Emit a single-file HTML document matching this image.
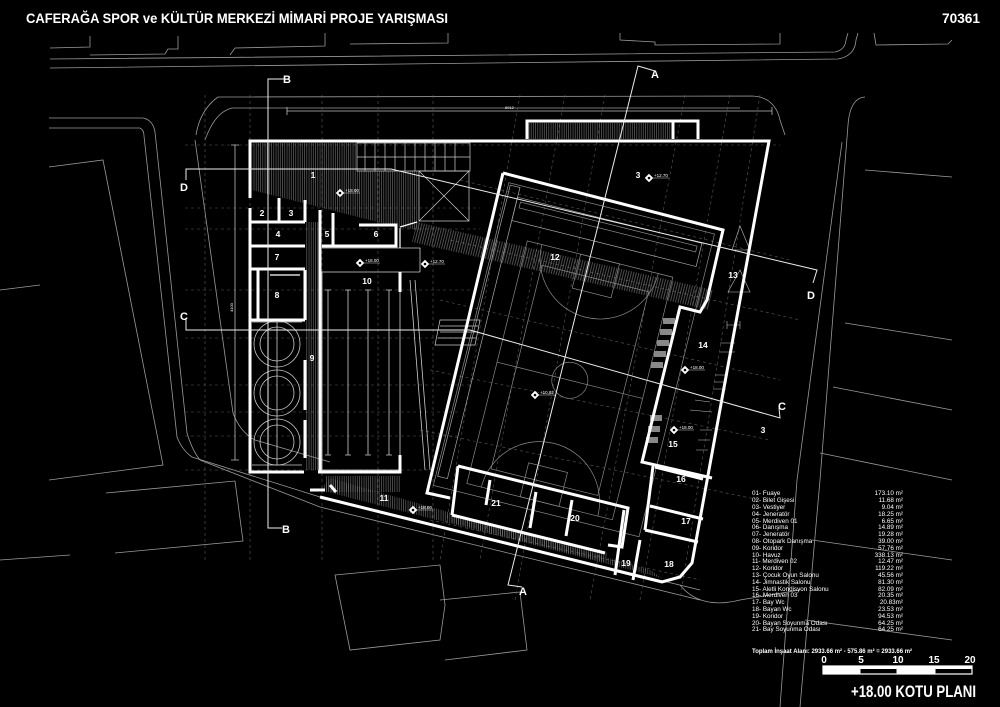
<!DOCTYPE html>
<html><head><meta charset="utf-8"><style>
html,body{margin:0;padding:0;background:#000;}
svg{display:block;}
text{font-family:"Liberation Sans","DejaVu Sans",sans-serif;fill:#fff;}
</style></head><body>
<svg width="1000" height="707" viewBox="0 0 1000 707" xmlns="http://www.w3.org/2000/svg">
<defs>
<pattern id="h" width="2.2" height="4" patternUnits="userSpaceOnUse"><line x1="1" y1="0" x2="1" y2="4" stroke="#8a8a8a" stroke-width="0.5"/></pattern>
<pattern id="hs" width="2.5" height="4" patternUnits="userSpaceOnUse" patternTransform="rotate(14)"><line x1="1" y1="0" x2="1" y2="4" stroke="#9a9a9a" stroke-width="0.5"/></pattern>
</defs>
<rect width="1000" height="707" fill="#000"/>

<!-- site background lines -->
<g fill="none" stroke="#9a9a9a" stroke-width="0.8">
<path d="M50,59 L835,52 Q845,50 846,40 L848,33"/>
<path d="M50,68 L838,59 Q855,56 856,40 L858,33"/>
<path d="M50,48 L90,47 L90,36 M90,55 L165,54 L168,49 L178,49 L178,36 M230,55 L235,48 L325,46 L325,33 M350,44 L448,43 L448,33 M620,33 L620,40 L655,42 L655,45 L780,44 L780,33"/>
<path d="M874,33 L876,45 L948,44 L952,40"/>
<path d="M49,118 L143,118 Q153,120 155,132 L187,433 Q192,450 200,460 L320,507 L700,600"/>
<path d="M49,128 L140,128 Q144,130 144,136 L177,437 Q182,450 192,457 L320,497 L700,590"/>
<path d="M49,167 L103,160 L163,465 L49,480"/>
<path d="M106,493 L235,481 L243,541 L115,553"/>
<path d="M196,135 Q200,110 218,97 L752,96 Q775,97 780,120 L785,135"/>
<path d="M205,140 Q215,112 232,108 L740,108"/>
<path d="M195,140 L233,413 Q240,432 255,440 L330,462"/>
<path d="M865,97 Q850,98 848,125 L820,480 L800,707"/>
<path d="M842,142 L797,480 L780,707"/>
<path d="M865,170 L952,177 M845,323 L952,340 M833,387 L952,410 M820,453 L952,480 M812,540 L952,560 M805,620 L952,640"/>
<path d="M335,575 L440,565 L445,605 L440,640 L350,650 Z M440,600 L520,592 L527,650 L445,660"/>
<path d="M680,585 Q700,610 740,600 L800,590"/>
<path d="M0,290 L40,285 M0,560 L70,555"/>
</g>

<!-- dashed grid -->
<g fill="none" stroke="#5a5a5a" stroke-width="0.6" stroke-dasharray="3,3">
<path d="M205,95 L205,560 M250,95 L250,560 M322,95 L322,560 M378,95 L378,560 M433,95 L433,560"/>
<path d="M185,145 L780,145 M185,208 L480,208 M185,229 L480,229 M185,290 L470,290 M185,338 L470,338 M185,385 L470,385 M185,412 L460,412 M185,436 L460,436 M185,470 L430,470"/>
<path d="M520,95 L440,560 M565,95 L480,560 M605,95 L515,600 M685,95 L590,600 M730,95 L640,600 M760,95 L680,600"/>
<path d="M460,180 L790,260 M450,240 L800,320 M440,300 L780,380 M430,370 L770,440 M420,430 L760,500 M430,520 L700,580"/>
</g>

<!-- dimension lines -->
<g stroke="#bbb" stroke-width="0.8" fill="none">
<path d="M287,111 L772,111 M287,107 L287,115 M772,107 L772,115"/>
<path d="M235,145 L235,460 M231,145 L239,145 M231,460 L239,460"/>
</g>
<text x="505" y="109" font-size="4" fill="#ccc">6912</text>
<text x="233" y="312" font-size="4" transform="rotate(-90 233 312)">4100</text>

<!-- hatched fills -->
<g stroke="none">
<polygon points="252,143 357,143 357,171 419,171 419,230 397,227 252,190" fill="url(#h)"/>
<rect x="306" y="222" width="14" height="248" fill="url(#h)"/>
<rect x="527" y="123" width="144" height="16" fill="url(#h)"/>
<polygon points="417,222 713,290 709,310 412,242" fill="url(#hs)"/>
<rect x="326" y="476" width="74" height="16" fill="url(#h)"/>
<polygon points="320,490 662,578 650,570 330,478" fill="url(#h)"/>
<polygon points="452,515 608,553 604,562 450,522" fill="url(#h)"/>
</g>

<!-- stairs top -->
<g stroke="#ccc" stroke-width="0.7" fill="none">
<path d="M357,143 L470,143 L470,171 L357,171 Z"/>
<path d="M365,143 L365,171 M375,143 L375,171 M385,143 L385,171 M395,143 L395,171 M405,143 L405,171 M415,143 L415,171 M425,143 L425,171 M435,143 L435,171 M445,143 L445,171 M455,143 L455,171 M357,157 L470,157"/>
<path d="M419,171 L469,171 L469,221 L419,221 Z M419,171 L469,221 M469,171 L419,221"/>
<path d="M440,320 L480,320 L475,345 L435,345 Z M440,326 L478,326 M440,332 L477,332 M438,338 L476,338"/>
</g>

<!-- gym interior (rotated) -->
<g transform="translate(503,173) rotate(14)" fill="none" stroke="#888" stroke-width="0.7">
<rect x="8" y="8" width="212" height="312"/>
<rect x="20" y="20" width="190" height="24" stroke="#aaa"/>
<rect x="24" y="24" width="182" height="6"/>
<rect x="40" y="60" width="150" height="250"/>
<rect x="60" y="80" width="110" height="210"/>
<line x1="40" y1="185" x2="190" y2="185"/>
<circle cx="115" cy="185" r="18"/>
<path d="M55,60 A60,60 0 0 0 175,60"/>
<path d="M55,310 A60,60 0 0 1 175,310"/>
<rect x="95" y="60" width="40" height="35"/>
<rect x="95" y="275" width="40" height="35"/>
<rect x="10" y="10" width="10" height="300" stroke="#aaa"/>
</g>
<!-- gym right rooms fixtures -->
<g fill="#888">
<rect x="663" y="318" width="12" height="6"/><rect x="660" y="329" width="12" height="6"/><rect x="657" y="340" width="12" height="6"/><rect x="654" y="351" width="12" height="6"/><rect x="651" y="362" width="12" height="6"/>
<rect x="650" y="415" width="12" height="6"/><rect x="648" y="426" width="12" height="6"/><rect x="646" y="437" width="12" height="6"/>
</g>
<g stroke="#bbb" stroke-width="0.6" fill="none">
<path d="M727,325 L740,325 M727,321 L727,329 M740,321 L740,329 M720,343 L735,343 M720,352 L735,352 M715,375 L728,375 M714,382 L727,382 M713,389 L726,389 M695,400 L710,402 M690,410 L712,412 M700,430 L712,430 M698,440 L710,440 M696,450 L708,450"/>
<path d="M740,226 L750,250 L732,250 Z M740,270 L750,292 L728,292 Z"/>
</g>

<!-- circles (tanks) -->
<g fill="none" stroke="#ccc" stroke-width="0.8">
<circle cx="277" cy="344" r="23"/><circle cx="277" cy="344" r="17"/>
<circle cx="277" cy="393" r="23"/><circle cx="277" cy="393" r="17"/>
<circle cx="277" cy="442" r="23"/><circle cx="277" cy="442" r="17"/>
<path d="M252,322 L302,322 M252,465 L302,465 M277,322 L277,465"/>
</g>

<!-- pool -->
<g stroke="#ccc" stroke-width="0.8" fill="none">
<rect x="322" y="272" width="78" height="198"/>
<path d="M328,290 L328,455 M348,290 L348,455 M368,290 L368,455 M389,290 L389,455"/>
<path d="M325,290 L331,290 M345,290 L351,290 M365,290 L371,290 M386,290 L392,290 M325,455 L331,455 M345,455 L351,455 M365,455 L371,455 M386,455 L392,455"/>
<path d="M322,248 L420,248 L420,272 M400,272 L420,272"/>
<path d="M410,280 L425,470 M415,280 L430,470"/>
</g>

<!-- thick walls -->
<g stroke="#fff" stroke-width="3" fill="none" stroke-linejoin="miter">
<path d="M250,198 L250,141 L769,141 L692,563 L680,577 L662,582 L320,497"/>
<path d="M250,208 L250,472 L304,472 M318,472 L400,472 L400,455"/>
<path d="M250,222 L305,222 M250,246 L305,246 M250,269 L305,269 M258,269 L258,320 M250,320 L305,320 M279,198 L279,222"/>
<path d="M305,200 L305,222 M305,270 L305,320 M305,360 L305,410 M305,420 L305,458"/>
<path d="M320,210 L320,472"/>
<path d="M322,246 L396,246 L396,225 L359,225 M333,213 L333,246"/>
<path d="M400,292 L400,272"/>
<path d="M527,139 L527,121 L698,121 L698,139 M673,121 L673,139"/>
<path d="M503,173 L723,230 L707,300 L700,312 L680,307 L642,462 L712,478"/>
<path d="M503,173 L427,493 L450,498"/>
<path d="M458,466 L628,508 L622,547 L608,545"/>
<path d="M458,466 L452,515 M452,515 L605,553"/>
<path d="M490,480 L486,505 M536,492 L530,528 M572,500 L566,536"/>
<path d="M653,466 L645,530 M655,467 L703,479 M650,506 L703,519 M645,530 L698,542 M640,540 L633,580 M624,510 L615,575"/>
<path d="M330,485 L336,492 M310,490 L325,490"/>
</g>
<g stroke="#fff" stroke-width="1.2" fill="none">
<path d="M400,227 L417,222 M400,228 L400,248"/>
<path d="M270,275 L300,275"/>
</g>

<!-- section lines -->
<g stroke="#eee" stroke-width="1" fill="none">
<path d="M285,79 L268,79 L268,528 L282,528"/>
<path d="M655,71 L638,66 L508,585 L522,587"/>
<path d="M186,180 L186,169 L391,169 L817,270 L813,283"/>
<path d="M186,318 L186,330 L470,330 L780,418 L779,408"/>
</g>
<g font-weight="bold" font-size="11">
<text x="283" y="83">B</text>
<text x="282" y="533">B</text>
<text x="651" y="78">A</text>
<text x="519" y="595">A</text>
<text x="180" y="191">D</text>
<text x="807" y="299">D</text>
<text x="180" y="320">C</text>
<text x="778" y="410">C</text>
</g>

<!-- room labels -->
<g font-weight="bold" font-size="8.5" text-anchor="middle">
<text x="313" y="178">1</text><text x="262" y="216">2</text><text x="291" y="216">3</text>
<text x="278" y="237">4</text><text x="327" y="237">5</text><text x="376" y="237">6</text>
<text x="277" y="260">7</text><text x="277" y="298">8</text><text x="312" y="361">9</text>
<text x="367" y="284">10</text><text x="384" y="501">11</text><text x="555" y="260">12</text>
<text x="733" y="278">13</text><text x="703" y="348">14</text><text x="673" y="447">15</text>
<text x="681" y="482">16</text><text x="686" y="524">17</text><text x="669" y="567">18</text>
<text x="626" y="566">19</text><text x="575" y="521">20</text><text x="496" y="506">21</text>
<text x="638" y="178">3</text><text x="763" y="433">3</text>
</g>

<!-- elevation markers -->
<g font-size="4.5" fill="#fff">
<g transform="translate(340,193)"><rect x="-3" y="-3" width="6" height="6" transform="rotate(45)" fill="#fff"/><circle r="1.3" fill="#000"/><text x="5" y="-1">+18.00</text><line x1="4" y1="0" x2="20" y2="0" stroke="#fff" stroke-width="0.4"/></g>
<g transform="translate(360,263)"><rect x="-3" y="-3" width="6" height="6" transform="rotate(45)" fill="#fff"/><circle r="1.3" fill="#000"/><text x="5" y="-1">+18.00</text><line x1="4" y1="0" x2="20" y2="0" stroke="#fff" stroke-width="0.4"/></g>
<g transform="translate(425,264)"><rect x="-3" y="-3" width="6" height="6" transform="rotate(45)" fill="#fff"/><circle r="1.3" fill="#000"/><text x="5" y="-1">+12.70</text><line x1="4" y1="0" x2="20" y2="0" stroke="#fff" stroke-width="0.4"/></g>
<g transform="translate(649,178)"><rect x="-3" y="-3" width="6" height="6" transform="rotate(45)" fill="#fff"/><circle r="1.3" fill="#000"/><text x="5" y="-1">+12.70</text><line x1="4" y1="0" x2="20" y2="0" stroke="#fff" stroke-width="0.4"/></g>
<g transform="translate(685,370)"><rect x="-3" y="-3" width="6" height="6" transform="rotate(45)" fill="#fff"/><circle r="1.3" fill="#000"/><text x="5" y="-1">+18.00</text><line x1="4" y1="0" x2="20" y2="0" stroke="#fff" stroke-width="0.4"/></g>
<g transform="translate(674,430)"><rect x="-3" y="-3" width="6" height="6" transform="rotate(45)" fill="#fff"/><circle r="1.3" fill="#000"/><text x="5" y="-1">+18.00</text><line x1="4" y1="0" x2="20" y2="0" stroke="#fff" stroke-width="0.4"/></g>
<g transform="translate(535,395)"><rect x="-3" y="-3" width="6" height="6" transform="rotate(45)" fill="#fff"/><circle r="1.3" fill="#000"/><text x="5" y="-1">+10.82</text><line x1="4" y1="0" x2="20" y2="0" stroke="#fff" stroke-width="0.4"/></g>
<g transform="translate(413,510)"><rect x="-3" y="-3" width="6" height="6" transform="rotate(45)" fill="#fff"/><circle r="1.3" fill="#000"/><text x="5" y="-1">+18.00</text><line x1="4" y1="0" x2="20" y2="0" stroke="#fff" stroke-width="0.4"/></g>
</g>

<!-- title -->
<text x="26" y="23" font-size="14" font-weight="bold" textLength="422" lengthAdjust="spacingAndGlyphs">CAFERAĞA SPOR ve KÜLTÜR MERKEZİ MİMARİ PROJE YARIŞMASI</text>
<text x="942" y="23" font-size="14" font-weight="bold" textLength="38" lengthAdjust="spacingAndGlyphs">70361</text>

<!-- legend -->
<g font-size="6.3" fill="#eee">
<text x="752" y="495">01- Fuaye</text><text x="903" y="495" text-anchor="end">173.10 m²</text>
<text x="752" y="502">02- Bilet Gişesi</text><text x="903" y="502" text-anchor="end">11.68 m²</text>
<text x="752" y="509">03- Vestiyer</text><text x="903" y="509" text-anchor="end">9.04 m²</text>
<text x="752" y="516">04- Jeneratör</text><text x="903" y="516" text-anchor="end">18.25 m²</text>
<text x="752" y="523">05- Merdiven 01</text><text x="903" y="523" text-anchor="end">6.65 m²</text>
<text x="752" y="529">06- Danışma</text><text x="903" y="529" text-anchor="end">14.89 m²</text>
<text x="752" y="536">07- Jeneratör</text><text x="903" y="536" text-anchor="end">19.28 m²</text>
<text x="752" y="543">08- Otopark Danışma</text><text x="903" y="543" text-anchor="end">39.00 m²</text>
<text x="752" y="550">09- Koridor</text><text x="903" y="550" text-anchor="end">57.76 m²</text>
<text x="752" y="557">10- Havuz</text><text x="903" y="557" text-anchor="end">338.13 m²</text>
<text x="752" y="563">11-  Merdiven 02</text><text x="903" y="563" text-anchor="end">12.47 m²</text>
<text x="752" y="570">12- Koridor</text><text x="903" y="570" text-anchor="end">119.22 m²</text>
<text x="752" y="577">13- Çocuk Oyun Salonu</text><text x="903" y="577" text-anchor="end">45.56 m²</text>
<text x="752" y="584">14- Jimnastik Salonu</text><text x="903" y="584" text-anchor="end">81.30 m²</text>
<text x="752" y="591">15- Aletli Kondisyon Salonu</text><text x="903" y="591" text-anchor="end">82.09 m²</text>
<text x="752" y="597">16- Merdiven 03</text><text x="903" y="597" text-anchor="end">20.35 m²</text>
<text x="752" y="604">17- Bay Wc</text><text x="903" y="604" text-anchor="end">20.83m²</text>
<text x="752" y="611">18- Bayan Wc</text><text x="903" y="611" text-anchor="end">23.53 m²</text>
<text x="752" y="618">19- Koridor</text><text x="903" y="618" text-anchor="end">94.53 m²</text>
<text x="752" y="625">20- Bayan Soyunma Odası</text><text x="903" y="625" text-anchor="end">64.25 m²</text>
<text x="752" y="631">21- Bay Soyunma Odası</text><text x="903" y="631" text-anchor="end">64.25 m²</text>
</g>
<text x="752" y="653" font-size="6" font-weight="bold" textLength="160" lengthAdjust="spacingAndGlyphs">Toplam İnşaat Alanı: 2933.66 m² - 575.86 m² = 2933.66 m²</text>

<!-- scale -->
<g font-size="10" font-weight="bold" text-anchor="middle">
<text x="824" y="663">0</text><text x="861" y="663">5</text><text x="898" y="663">10</text><text x="934" y="663">15</text><text x="970" y="663">20</text>
</g>
<rect x="823" y="666" width="149" height="8" fill="none" stroke="#fff" stroke-width="1.2"/>
<rect x="823" y="666" width="149" height="3" fill="#fff"/>
<rect x="823" y="669" width="37" height="5" fill="#fff"/>
<rect x="897" y="669" width="38" height="5" fill="#fff"/>
<path d="M860,666 L860,674 M897,666 L897,674 M935,666 L935,674" stroke="#fff"/>
<text x="851" y="697" font-size="17" font-weight="bold" textLength="125" lengthAdjust="spacingAndGlyphs">+18.00 KOTU PLANI</text>
</svg>
</body></html>
